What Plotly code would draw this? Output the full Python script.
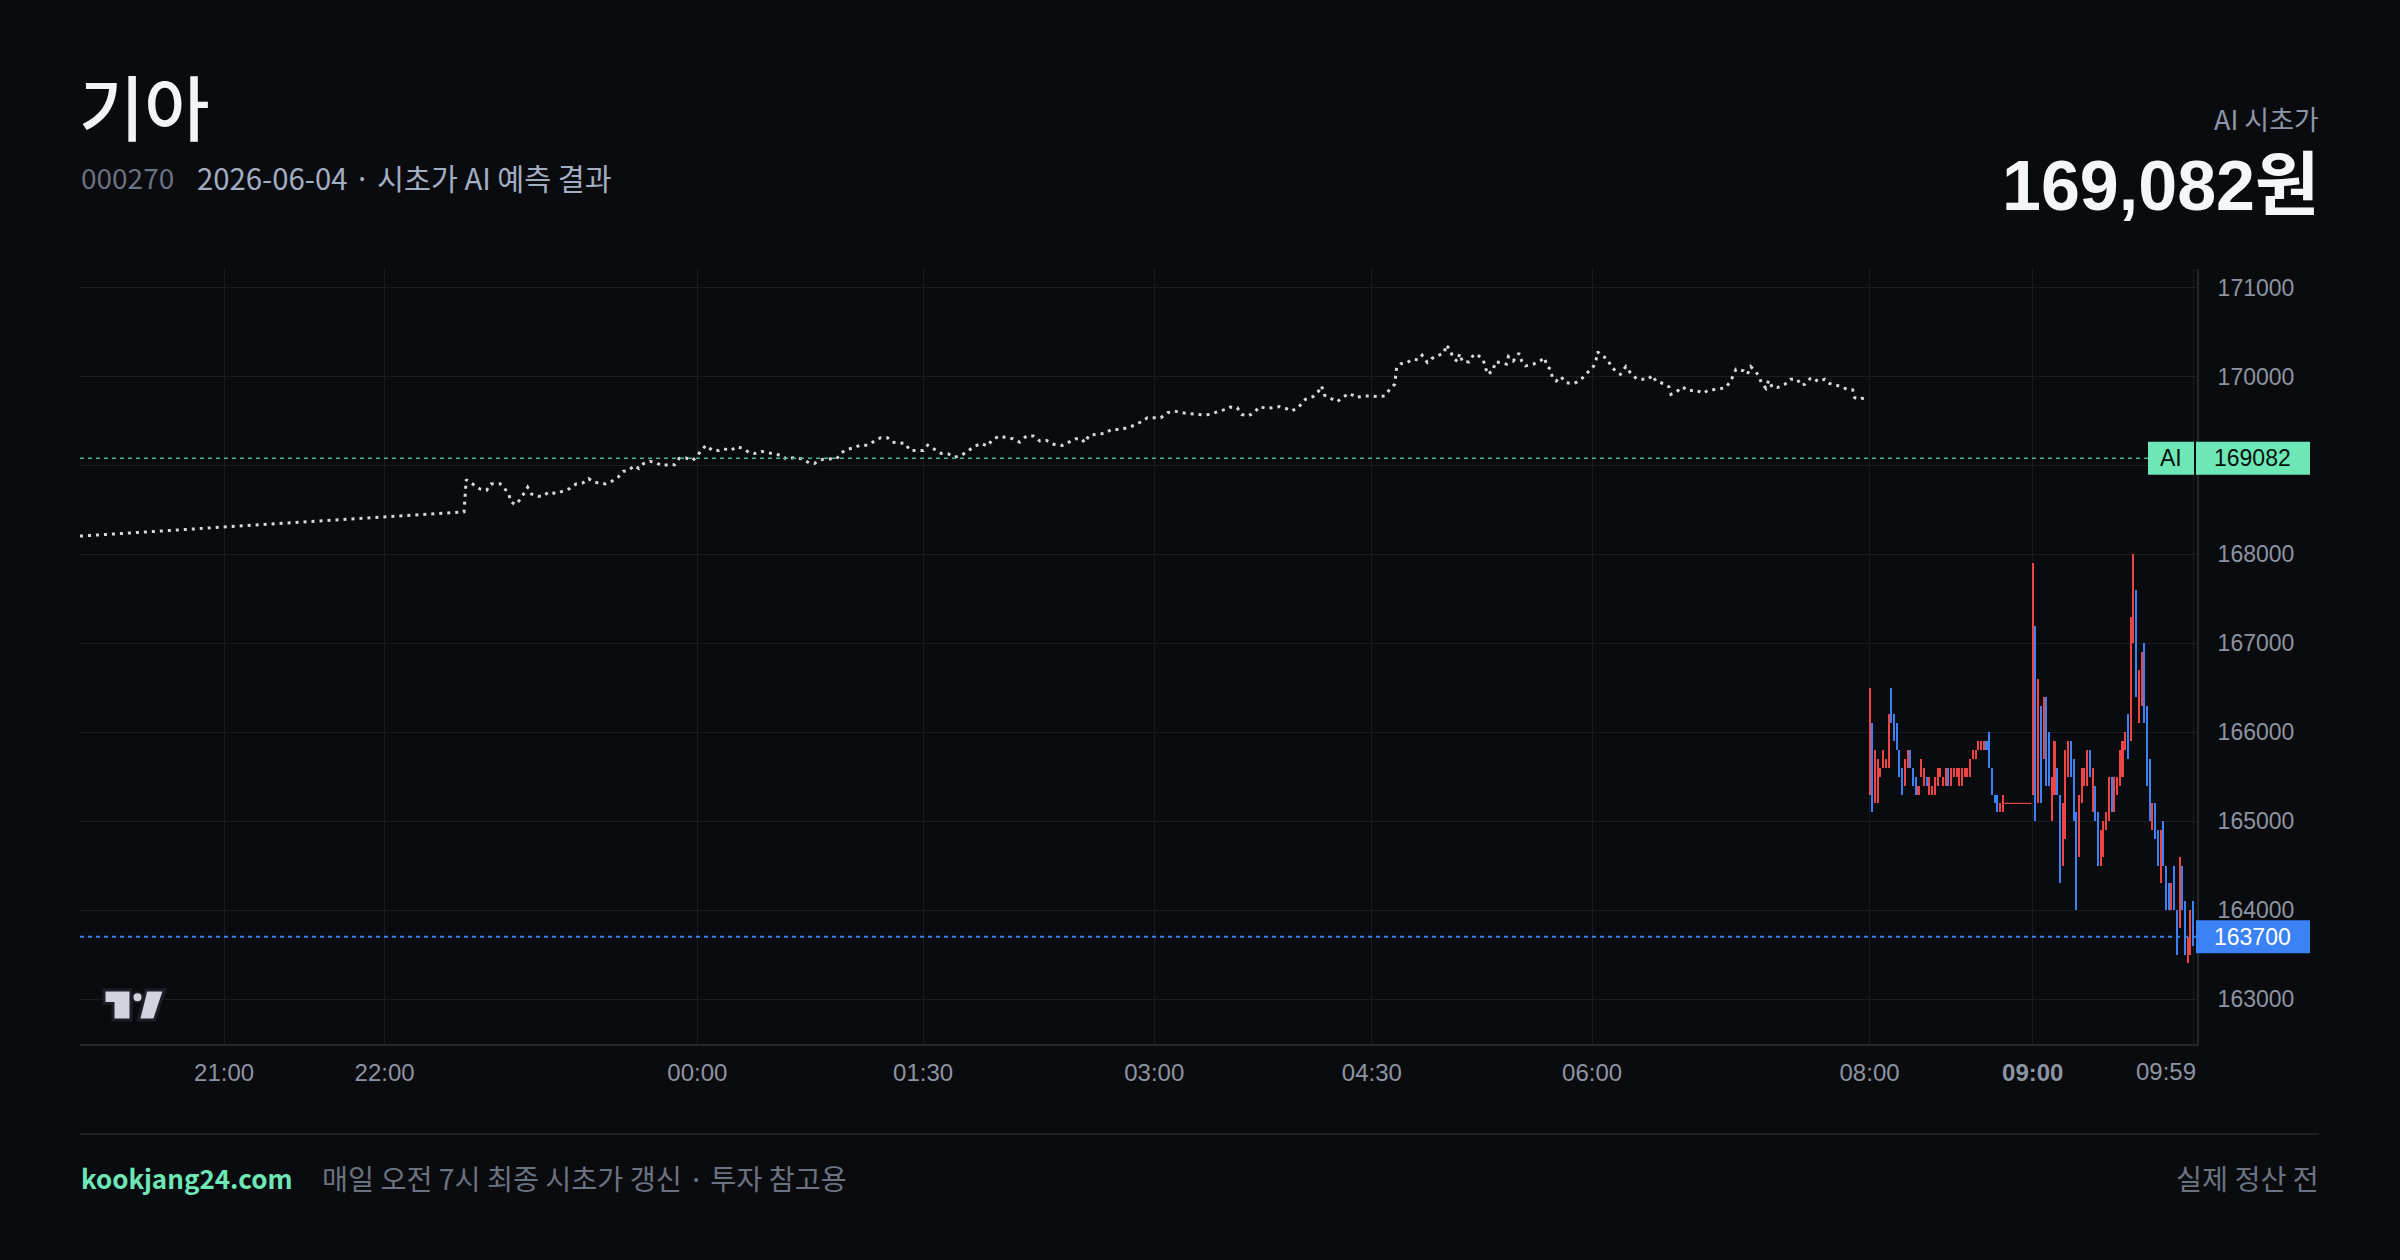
import plotly.graph_objects as go

# ------------------------------------------------------------------ data
stock_name = "기아"
stock_code = "000270"
report_date = "2026-06-04"
ai_open_price = 169082
last_price = 163700

# time axis (TradingView-like bar-index axis)
tick_labels = ["21:00", "22:00", "00:00", "01:30", "03:00", "04:30", "06:00", "08:00", "09:00", "09:59"]
tick_bar = [53, 112, 227, 310, 395, 475, 556, 658, 718, 777]

price_ticks = [163000, 164000, 165000, 166000, 167000, 168000, 169000, 170000, 171000]
price_tick_text = ["163000", "164000", "165000", "166000", "167000", "168000", "", "170000", "171000"]

# AI overnight prediction path (bar index, price)
pred_bar = [
    0, 141.2, 142.0, 144.5, 147.0, 149.5, 151.1, 154.4, 156.0, 157.7,
    158.5, 160.2, 161.8, 163.5, 164.6, 166.0, 168.4, 170.1, 172.5, 175.0,
    177.5, 180.0, 182.4, 184.9, 187.0, 189.0, 191.5, 193.1, 195.6, 197.8,
    199.7, 201.4, 203.9, 205.5, 207.2, 209.6, 212.1, 213.8, 216.2, 218.7,
    220.3, 222.8, 225.3, 226.8, 228.4, 230.1, 232.6, 235.0, 236.7, 239.2,
    241.6, 244.1, 245.8, 248.2, 250.7, 253.2, 255.7, 258.1, 259.8, 262.2,
    265.5, 268.0, 270.0, 273.0, 276.3, 278.2, 279.9, 282.0, 284.5, 287.0,
    289.5, 291.9, 294.4, 296.9, 298.5, 301.0, 303.5, 305.1, 307.6, 310.1,
    311.7, 314.2, 316.7, 319.1, 321.6, 324.1, 326.6, 329.0, 331.5, 333.6,
    335.6, 338.1, 340.6, 343.0, 345.5, 348.0, 350.5, 353.0, 355.4, 358.2,
    361.2, 363.6, 366.1, 368.3, 369.4, 371.1, 374.4, 376.8, 379.3, 382.6,
    385.1, 387.6, 390.0, 392.5, 395.0, 397.4, 399.9, 402.4, 404.9, 408.2,
    410.6, 413.1, 415.6, 418.9, 421.4, 423.0, 425.5, 427.1, 429.6, 432.1,
    433.7, 436.2, 438.7, 441.1, 443.6, 445.3, 447.7, 450.6, 453.4, 455.5,
    456.5, 457.6, 459.8, 462.3, 464.7, 466.8, 469.3, 471.7, 474.5, 477.3,
    479.7, 481.6, 483.4, 484.1, 485.8, 487.6, 490.0, 492.1, 493.5, 495.4,
    497.0, 499.9, 501.7, 502.2, 503.7, 504.8, 506.5, 507.3, 508.3, 510.8,
    512.5, 513.9, 515.8, 516.7, 517.4, 519.6, 520.3, 522.4, 524.5, 525.2,
    527.0, 529.1, 530.1, 531.5, 534.3, 536.9, 538.5, 539.3, 540.7, 541.4,
    542.8, 544.5, 546.3, 549.1, 550.5, 552.6, 554.7, 556.6, 557.5, 558.0,
    559.7, 561.8, 562.8, 564.6, 566.4, 568.4, 570.2, 572.3, 574.4, 576.5,
    578.2, 579.4, 582.2, 584.3, 585.0, 587.1, 589.2, 591.3, 594.1, 596.7,
    599.0, 602.1, 605.0, 606.8, 608.9, 611.7, 613.1, 614.3, 615.9, 617.3,
    618.3, 619.9, 620.9, 622.3, 624.1, 626.9, 628.9, 631.4, 632.8, 634.2,
    636.1, 637.0, 639.1, 641.5, 643.0, 645.2, 647.2, 649.7, 651.8, 652.5,
    654.2, 655.1, 656.7,
]
pred_val = [
    168206, 168478, 168841, 168793, 168737, 168722, 168793, 168796, 168748, 168673,
    168587, 168561, 168617, 168699, 168755, 168680, 168654, 168654, 168703, 168684,
    168710, 168740, 168793, 168804, 168852, 168811, 168804, 168793, 168823, 168867,
    168935, 168942, 168998, 168965, 169021, 169047, 169028, 168998, 169009, 169009,
    169080, 169084, 169058, 169105, 169169, 169226, 169169, 169169, 169188, 169169,
    169211, 169188, 169150, 169135, 169158, 169143, 169132, 169113, 169068, 169087,
    169075, 169030, 169023, 169068, 169075, 169075, 169143, 169181, 169199, 169229,
    169229, 169274, 169312, 169312, 169263, 169256, 169248, 169169, 169169, 169169,
    169229, 169181, 169135, 169132, 169094, 169113, 169169, 169218, 169248, 169218,
    169293, 169331, 169312, 169301, 169263, 169331, 169331, 169274, 169282, 169237,
    169226, 169263, 169301, 169301, 169256, 169342, 169350, 169361, 169406, 169406,
    169425, 169451, 169489, 169538, 169538, 169538, 169594, 169613, 169594, 169583,
    169568, 169568, 169575, 169613, 169632, 169658, 169650, 169575, 169556, 169605,
    169662, 169643, 169650, 169662, 169639, 169613, 169643, 169745, 169775, 169839,
    169895, 169790, 169756, 169718, 169775, 169812, 169763, 169782, 169782, 169775,
    169782, 169857, 169914, 170101, 170146, 170150, 170195, 170188, 170240, 170158,
    170203, 170240, 170270, 170357, 170308, 170214, 170169, 170259, 170169, 170165,
    170251, 170244, 170195, 170120, 170026, 170064, 170165, 170158, 170139, 170225,
    170176, 170263, 170176, 170120, 170139, 170176, 170214, 170120, 170083, 169989,
    169951, 170000, 169932, 169921, 169940, 169989, 170053, 170120, 170195, 170278,
    170233, 170195, 170120, 170064, 170026, 170113, 170038, 169977, 169970, 169970,
    170015, 169951, 169921, 169884, 169801, 169831, 169884, 169839, 169850, 169812,
    169850, 169857, 169876, 169940, 170083, 170064, 170026, 170113, 170064, 170008,
    169925, 169869, 169959, 169876, 169876, 169914, 169970, 169970, 169902, 169914,
    169977, 169989, 169944, 169970, 169925, 169902, 169895, 169857, 169850, 169763,
    169745, 169756, 169752,
]

# 1-minute bars 08:00 .. 09:59 (high, low, direction: 1 = up/red, 0 = down/blue)
bar_high = [
    166500, 166100, 165800, 165700, 165600, 165800, 165700, 166200, 166500, 166200,
    166100, 165800, 165600, 165700, 165800, 165800, 165600, 165500, 165400, 165700,
    165600, 165500, 165500, 165400, 165500, 165600, 165600, 165500, 165600, 165600,
    165600, 165600, 165600, 165600, 165600, 165600, 165600, 165700, 165800, 165800,
    165900, 165900, 165900, 165900, 166000, 165600, 165300, 165300, 165200, 165300,
    165200, 165200, 165200, 165200, 165200, 165200, 165200, 165200, 165200, 165200,
    167900, 167200, 166600, 166300, 166400, 166400, 166000, 165500, 165900, 165600,
    165300, 165200, 165800, 165900, 165900, 165700, 165100, 165300, 165600, 165600,
    165800, 165800, 165600, 165400, 165100, 164900, 165000, 165100, 165500, 165500,
    165500, 165500, 165800, 165900, 166000, 166200, 167300, 168000, 167600, 166700,
    166900, 167000, 166300, 165700, 165200, 165200, 164900, 164900, 165000, 164500,
    164300, 164300, 164500, 164000, 164600, 164500, 164100, 163700, 164000, 164100,
]
bar_low = [
    165300, 165100, 165200, 165200, 165500, 165600, 165600, 165600, 166100, 165900,
    165800, 165500, 165300, 165400, 165600, 165600, 165400, 165300, 165300, 165500,
    165400, 165400, 165300, 165300, 165300, 165400, 165500, 165400, 165400, 165400,
    165400, 165500, 165500, 165400, 165400, 165500, 165500, 165500, 165700, 165700,
    165800, 165800, 165800, 165800, 165600, 165300, 165200, 165100, 165100, 165100,
    165200, 165200, 165200, 165200, 165200, 165200, 165200, 165200, 165200, 165200,
    165300, 165000, 165200, 165200, 165700, 165400, 165400, 165000, 165300, 165300,
    164300, 164500, 164800, 165500, 165500, 165000, 164000, 164600, 165200, 165400,
    165400, 165500, 165100, 165000, 164500, 164500, 164600, 164900, 165000, 165100,
    165100, 165300, 165400, 165500, 165800, 165700, 165900, 167000, 166400, 166100,
    166300, 166100, 165400, 165000, 164900, 164800, 164500, 164300, 164500, 164000,
    164000, 164000, 164000, 163500, 163800, 164000, 163500, 163400, 163500, 163600,
]
bar_up = [
    1, 0, 1, 1, 1, 1, 1, 1, 0, 0,
    0, 0, 0, 1, 1, 0, 0, 0, 1, 1,
    1, 0, 1, 1, 1, 1, 1, 1, 1, 0,
    1, 1, 1, 1, 1, 1, 1, 1, 1, 1,
    1, 1, 1, 0, 0, 0, 0, 0, 1, 1,
    1, 1, 1, 1, 1, 1, 1, 1, 1, 1,
    1, 0, 1, 0, 1, 0, 0, 1, 1, 0,
    0, 1, 1, 1, 0, 0, 0, 1, 1, 1,
    1, 0, 1, 0, 0, 1, 1, 1, 1, 0,
    1, 1, 1, 1, 1, 0, 1, 1, 0, 1,
    1, 0, 0, 0, 1, 0, 0, 1, 0, 0,
    0, 1, 0, 0, 1, 0, 0, 1, 1, 0,
]

# ------------------------------------------------------------------ style
BG = "#0a0b0f"
GRID = "#1a1c22"
AXIS = "#24272e"
TICK = "#8d94a1"
UP = "#ef4444"
DOWN = "#3b82f6"
MINT = "#6ee7b7"
PRED = "#d6d8dd"
NUM_FONT = "Liberation Sans, Arial, sans-serif"
KR_FONT = "Noto Sans CJK KR, Liberation Sans, sans-serif"

W, H = 2400, 1260
L, R, T, B = 80, 2197, 269, 1044
Y_LO, Y_HI = 162494, 171210
X_LO, X_HI = 0, 778.4


def fx(p):
    return (p - L) / (R - L)


def fy(p):
    return (B - p) / (B - T)


start_bar = tick_bar[tick_labels.index("08:00")]
bar_x = [start_bar + i for i in range(len(bar_high))]
bar_col = [UP if u else DOWN for u in bar_up]

fig = go.Figure()

fig.add_trace(go.Scatter(
    x=pred_bar, y=pred_val, mode="lines",
    line=dict(color=PRED, width=3, dash="3px,5px"),
    hoverinfo="skip", showlegend=False,
))

fig.add_trace(go.Bar(
    x=bar_x, base=bar_low, y=[h - l for h, l in zip(bar_high, bar_low)],
    width=0.75, marker=dict(color=bar_col, line=dict(width=0)),
    hoverinfo="skip", showlegend=False,
))

flat_x = [x for x, h, l in zip(bar_x, bar_high, bar_low) if h == l]
flat_y = [h for h, l in zip(bar_high, bar_low) if h == l]
flat_c = [c for c, h, l in zip(bar_col, bar_high, bar_low) if h == l]
fig.add_trace(go.Scatter(
    x=flat_x, y=flat_y, mode="markers",
    marker=dict(symbol="line-ew", size=2, color=flat_c, line=dict(color=flat_c, width=1.2)),
    hoverinfo="skip", showlegend=False,
))

shapes = [
    # AI open price line
    dict(type="line", xref="paper", yref="y", x0=0, x1=fx(2148), y0=ai_open_price, y1=ai_open_price,
         line=dict(color="#46b58f", width=1.5, dash="4px,4px"), layer="above"),
    # last price line
    dict(type="line", xref="paper", yref="y", x0=0, x1=1, y0=last_price, y1=last_price,
         line=dict(color=DOWN, width=2, dash="4px,4px"), layer="above"),
    # AI tag boxes
    dict(type="rect", xref="paper", yref="y", x0=fx(2148), x1=fx(2194), ysizemode="pixel",
         yanchor=ai_open_price, y0=-16.5, y1=16.5, fillcolor=MINT, line=dict(width=0), layer="above"),
    dict(type="rect", xref="paper", yref="y", x0=fx(2196), x1=fx(2310), ysizemode="pixel",
         yanchor=ai_open_price, y0=-16.5, y1=16.5, fillcolor=MINT, line=dict(width=0), layer="above"),
    dict(type="rect", xref="paper", yref="y", x0=fx(2196), x1=fx(2310), ysizemode="pixel",
         yanchor=last_price, y0=-16.5, y1=16.5, fillcolor=DOWN, line=dict(width=0), layer="above"),
    # footer separator
    dict(type="line", xref="paper", yref="paper", x0=0, x1=fx(2319), y0=fy(1134), y1=fy(1134),
         line=dict(color="#1c1f26", width=2)),
]


def path(points):
    return "M" + " L".join(f"{fx(a):.5f},{fy(b):.5f}" for a, b in points) + " Z"


logo_fill = "#d1d4dc"
logo_edge = "#1c1f27"
shapes += [
    dict(type="path", xref="paper", yref="paper", layer="above",
         path=path([(104, 990), (131, 990), (131, 1020), (113, 1020), (113, 1003.5), (104, 1003.5)]),
         fillcolor=logo_fill, line=dict(color=logo_edge, width=3)),
    dict(type="path", xref="paper", yref="paper", layer="above",
         path=path([(146, 990), (164.5, 990), (154.5, 1020), (138.5, 1020)]),
         fillcolor=logo_fill, line=dict(color=logo_edge, width=3)),
    dict(type="circle", xref="paper", yref="paper", layer="above",
         x0=fx(132.5), x1=fx(142.5), y0=fy(1002.3), y1=fy(992.3),
         fillcolor=logo_fill, line=dict(color=logo_edge, width=2)),
]

ann = []


def note(text, x, y, size, color, xanchor="left", family=KR_FONT, weight="normal", yref="paper"):
    ann.append(dict(text=text, x=x, y=y, xref="paper", yref=yref, xanchor=xanchor, yanchor="middle",
                    showarrow=False, font=dict(family=family, size=size, color=color, weight=weight)))


note(stock_name, fx(77), fy(104), 71, "#f3f4f6", weight=500)
note(stock_code, fx(79), fy(177), 28, "#6b7280")
note(f"{report_date} · 시초가 AI 예측 결과", fx(195), fy(177), 29.3, "#a3aec2")
note("AI 시초가", fx(2321), fy(119), 27, "#8d96a8", xanchor="right")
note(f"{ai_open_price:,}원", fx(2321), fy(186), 70, "#f5f6f8", xanchor="right",
     family="Liberation Sans, Noto Sans CJK KR, sans-serif", weight="bold")
note("kookjang24.com", fx(79), fy(1177), 26, MINT, weight="bold")
note("매일 오전 7시 최종 시초가 갱신 · 투자 참고용", fx(320), fy(1177), 28.3, "#6b7280")
note("실제 정산 전", fx(2321), fy(1177), 28.3, "#6b7280", xanchor="right")
note(tick_labels[-1], fx(2166), fy(1071), 24, TICK, xanchor="center", family=NUM_FONT)
note("AI", fx(2171), ai_open_price, 23, "#07120d", xanchor="center", family=NUM_FONT, yref="y")
note(str(ai_open_price), fx(2212), ai_open_price, 23, "#07120d", family=NUM_FONT, yref="y")
note(str(last_price), fx(2212), last_price, 23, "#ffffff", family=NUM_FONT, yref="y")

x_ticktext = [f"<b>{t}</b>" if t == "09:00" else t for t in tick_labels[:-1]] + [""]

fig.update_layout(
    width=W, height=H, autosize=False,
    margin=dict(l=L, r=W - R, t=T, b=H - B, pad=0),
    paper_bgcolor=BG, plot_bgcolor=BG,
    showlegend=False, hovermode=False, bargap=0,
    shapes=shapes, annotations=ann,
    xaxis=dict(
        range=[X_LO, X_HI], tickmode="array", tickvals=tick_bar, ticktext=x_ticktext,
        showgrid=True, gridcolor=GRID, gridwidth=1, zeroline=False,
        showline=True, linecolor=AXIS, linewidth=2, ticks="",
        tickfont=dict(family=NUM_FONT, size=24, color=TICK), ticklabelstandoff=6,
        fixedrange=True,
    ),
    yaxis=dict(
        range=[Y_LO, Y_HI], side="right", tickmode="array", tickvals=price_ticks, ticktext=price_tick_text,
        showgrid=True, gridcolor=GRID, gridwidth=1, zeroline=False,
        showline=True, linecolor=AXIS, linewidth=2, ticks="",
        tickfont=dict(family=NUM_FONT, size=23, color=TICK), ticklabelstandoff=14,
        fixedrange=True,
    ),
)

fig.write_html("out.html")
